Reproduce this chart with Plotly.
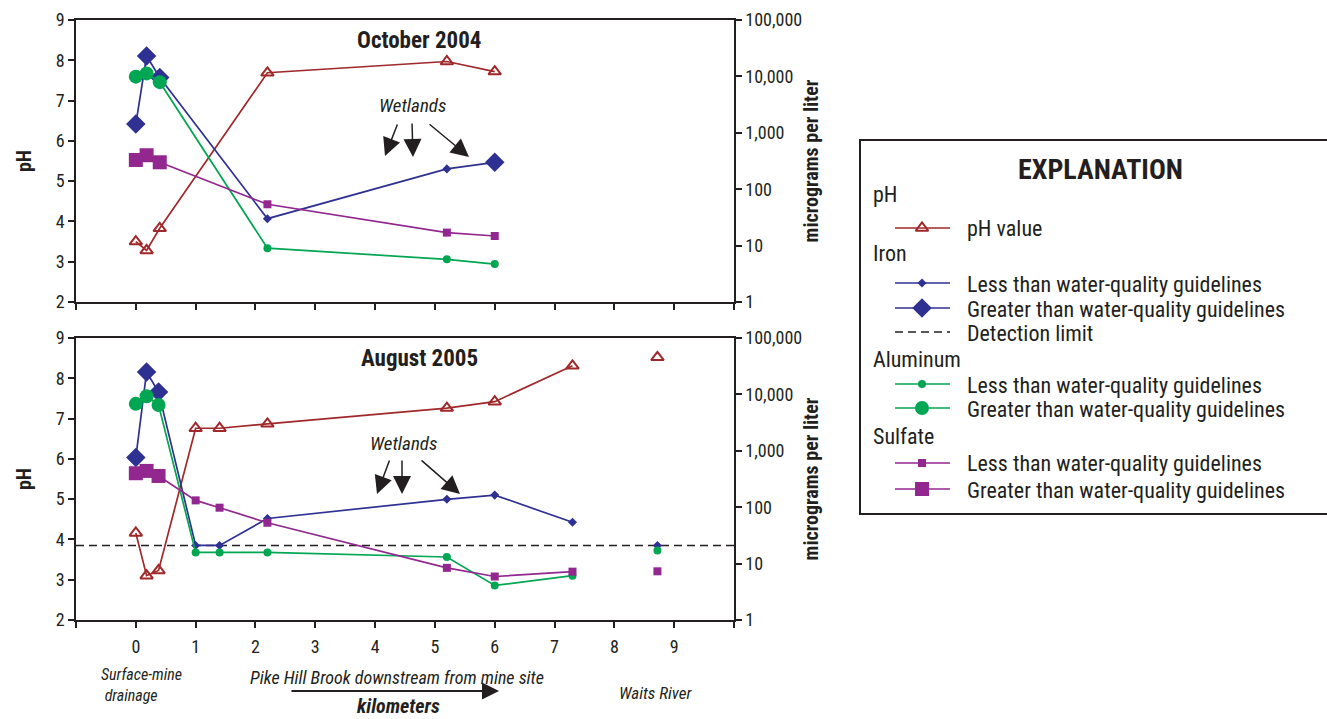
import plotly.graph_objects as go
from plotly.subplots import make_subplots

FONT = "Liberation Sans Narrow, Arial Narrow, Roboto Condensed, DejaVu Sans Condensed, Liberation Sans, sans-serif"
W, H = 1327, 719
INK = "#231F20"

# ---------------- data ----------------
# October 2004 (Pike Hill Brook, km downstream)
oct_km = [0, 0.18, 0.4, 2.2, 5.2, 6.0]
oct_ph = [3.5, 3.28, 3.83, 7.69, 7.97, 7.72]
oct_fe = [1430, 23000, 9600, 30, 229, 300]
oct_fe_exceed = [True, True, True, False, False, True]
oct_al = [9900, 11300, 7900, 9.0, 5.7, 4.7]
oct_al_exceed = [True, True, True, False, False, False]
oct_so4 = [330, 400, 300, 54, 17, 14.8]
oct_so4_exceed = [True, True, True, False, False, False]

# August 2005 (Pike Hill Brook)
aug_km = [0, 0.18, 0.38, 1.0, 1.4, 2.2, 5.2, 6.0, 7.3]
aug_ph = [4.16, 3.1, 3.23, 6.76, 6.76, 6.87, 7.26, 7.42, 8.31]
aug_fe = [760, 25000, 11000, 21, 21, 63, 138, 164, 54]
aug_fe_exceed = [True, True, True, False, False, False, False, False, False]
aug_al = [6800, 9300, 6500, 15.8, 15.8, 15.8, 13.1, 4.1, 6.1]
aug_al_exceed = [True, True, True, False, False, False, False, False, False]
aug_so4 = [400, 440, 358, 132, 98, 53, 8.4, 5.9, 7.2]
aug_so4_exceed = [True, True, True, False, False, False, False, False, False]

# August 2005 (Waits River, not connected)
waits_km = [8.72]
waits_ph = [8.52]
waits_fe = [21]
waits_al = [17]
waits_so4 = [7.3]

fe_detection_limit = 21
x_ticks = list(range(-1, 11))
x_ticklabels = [""] + [str(i) for i in range(0, 10)] + [""]
conc_ticks = [1, 10, 100, 1000, 10000, 100000]
conc_ticklabels = ["1", "10", "100", "1,000", "10,000", "100,000"]
ph_ticks = [2, 3, 4, 5, 6, 7, 8, 9]

legend_groups = ["pH", "Iron", "Aluminum", "Sulfate"]
legend_less = "Less than water-quality guidelines"
legend_greater = "Greater than water-quality guidelines"

# ---------------- styles ----------------
C_PH = "#A0282A"
C_FE = "#2E3192"
C_AL = "#00A651"
C_SO4 = "#92278F"
LW = 1.7

SYM = {"fe": ("diamond", 7, 15), "al": ("circle", 8, 14), "so4": ("square", 8, 14)}
COL = {"fe": C_FE, "al": C_AL, "so4": C_SO4}
PH_MARKER = dict(symbol="triangle-up-open", size=11, color=C_PH, line=dict(width=2, color=C_PH))


def px(x):
    return x / W


def py(y):
    return 1 - y / H


fig = make_subplots(rows=2, cols=1, specs=[[{"secondary_y": True}], [{"secondary_y": True}]])

# detection limit (bottom panel)
fig.add_trace(go.Scatter(x=[-1, 10], y=[fe_detection_limit, fe_detection_limit], mode="lines",
                         name="Detection limit", showlegend=False, hoverinfo="skip",
                         line=dict(color=INK, width=1.6, dash="8px,5px")),
              row=2, col=1, secondary_y=True)


def add_series(row, km, vals, exceed, key, connect=True):
    sym, small, big = SYM[key]
    sizes = [big if e else small for e in exceed]
    fig.add_trace(go.Scatter(x=km, y=vals, mode="lines+markers" if connect else "markers",
                             showlegend=False,
                             line=dict(color=COL[key], width=LW),
                             marker=dict(symbol=sym, size=sizes, color=COL[key], opacity=1,
                                         line=dict(width=0))),
                  row=row, col=1, secondary_y=True)


def add_ph(row, km, vals, connect=True):
    fig.add_trace(go.Scatter(x=km, y=vals, mode="lines+markers" if connect else "markers",
                             showlegend=False, line=dict(color=C_PH, width=LW), marker=PH_MARKER),
                  row=row, col=1, secondary_y=False)


# October 2004
add_ph(1, oct_km, oct_ph)
add_series(1, oct_km, oct_fe, oct_fe_exceed, "fe")
add_series(1, oct_km, oct_al, oct_al_exceed, "al")
add_series(1, oct_km, oct_so4, oct_so4_exceed, "so4")

# August 2005
add_ph(2, aug_km, aug_ph)
add_ph(2, waits_km, waits_ph, connect=False)
add_series(2, aug_km, aug_fe, aug_fe_exceed, "fe")
add_series(2, waits_km, waits_fe, [False], "fe", connect=False)
add_series(2, aug_km, aug_al, aug_al_exceed, "al")
add_series(2, waits_km, waits_al, [False], "al", connect=False)
add_series(2, aug_km, aug_so4, aug_so4_exceed, "so4")
add_series(2, waits_km, waits_so4, [False], "so4", connect=False)

# ---------------- axes ----------------
tickfont = dict(family=FONT, size=18, color=INK)
titlefont = dict(family=FONT, size=20, color=INK, weight="bold")
xdom = [px(76), px(734)]
common_x = dict(range=[-1, 10], tickvals=x_ticks, ticktext=x_ticklabels, ticks="outside", ticklen=6,
                tickwidth=1.5, tickcolor=INK, showline=True, linecolor=INK, linewidth=1.5,
                mirror=True, showgrid=False, zeroline=False, tickfont=tickfont, domain=xdom,
                automargin=False)
fig.update_layout(
    xaxis=dict(common_x, showticklabels=False),
    xaxis2=dict(common_x, showticklabels=True, ticklabelstandoff=4),
)
common_ph = dict(range=[2, 9], tickvals=ph_ticks, ticks="outside", ticklen=6, tickwidth=1.5,
                 tickcolor=INK, showline=True, linecolor=INK, linewidth=1.5,
                 showgrid=False, zeroline=False, tickfont=tickfont, automargin=False,
                 title=dict(text="pH", font=titlefont, standoff=19))
common_c = dict(type="log", range=[0, 5], tickvals=conc_ticks, ticktext=conc_ticklabels,
                ticks="outside", ticklen=6, tickwidth=1.5, tickcolor=INK, showline=True,
                linecolor=INK, linewidth=1.5, showgrid=False, zeroline=False, tickfont=tickfont,
                automargin=False,
                title=dict(text="micrograms per liter", font=titlefont, standoff=3))
fig.update_layout(
    yaxis=dict(common_ph, domain=[py(302), py(20)]),
    yaxis2=dict(common_c),
    yaxis3=dict(common_ph, domain=[py(620), py(338)]),
    yaxis4=dict(common_c),
)

# ---------------- manual legend (EXPLANATION) ----------------
# overlay axis in figure pixels for legend symbols
fig.update_layout(
    xaxis3=dict(domain=[0, 1], range=[0, W], visible=False, anchor="y5", fixedrange=True),
    yaxis5=dict(domain=[0, 1], range=[H, 0], visible=False, anchor="x3", fixedrange=True),
)
LX0, LX1, LXM = 895, 950, 922
legend_rows = [
    ("ph", None, 228, "pH value"),
    ("fe", "small", 283, legend_less),
    ("fe", "big", 308, legend_greater),
    ("dl", None, 332, "Detection limit"),
    ("al", "small", 384, legend_less),
    ("al", "big", 408, legend_greater),
    ("so4", "small", 463, legend_less),
    ("so4", "big", 489, legend_greater),
]
group_rows = [(legend_groups[0], 194), (legend_groups[1], 254), (legend_groups[2], 359), (legend_groups[3], 436)]

ann = []
for key, size, ry, label in legend_rows:
    if key == "dl":
        fig.add_trace(go.Scatter(x=[LX0, LX1], y=[ry, ry], mode="lines", showlegend=False, hoverinfo="skip",
                                 line=dict(color=INK, width=1.6, dash="8px,5px"), xaxis="x3", yaxis="y5"))
    else:
        if key == "ph":
            col, mk = C_PH, PH_MARKER
        else:
            sym, small, big = SYM[key]
            col = COL[key]
            mk = dict(symbol=sym, size=small if size == "small" else big, color=col, line=dict(width=0))
        fig.add_trace(go.Scatter(x=[LX0, LX1], y=[ry, ry], mode="lines", showlegend=False, hoverinfo="skip",
                                 line=dict(color=col, width=LW), xaxis="x3", yaxis="y5"))
        fig.add_trace(go.Scatter(x=[LXM], y=[ry], mode="markers", showlegend=False, hoverinfo="skip",
                                 marker=mk, xaxis="x3", yaxis="y5"))
    ann.append(dict(x=px(965), y=py(ry + 1), xanchor="left", yanchor="middle", text=label,
                    font=dict(family=FONT, size=22, color=INK)))
for g, gy in group_rows:
    ann.append(dict(x=px(871), y=py(gy), xanchor="left", yanchor="middle", text=g,
                    font=dict(family=FONT, size=22, color=INK)))
ann.append(dict(x=px(1100), y=py(169), xanchor="center", yanchor="middle", text="<b>EXPLANATION</b>",
                font=dict(family=FONT, size=28, color=INK)))

shapes = [dict(type="rect", xref="paper", yref="paper", x0=px(860), x1=px(1345), y0=py(514), y1=py(140),
               line=dict(color=INK, width=2), fillcolor="rgba(0,0,0,0)", layer="below")]

# ---------------- annotations ----------------
ann.append(dict(x=px(419), y=py(41), text="<b>October 2004</b>", font=dict(family=FONT, size=23, color=INK)))
ann.append(dict(x=px(419), y=py(358), text="<b>August 2005</b>", font=dict(family=FONT, size=23, color=INK)))
# wetlands
for (tx, ty, heads, tails) in [
    (412, 106, [(385, 156), (413, 157), (469, 157)], [(398, 123), (412, 122), (428, 123)]),
    (403, 443, [(377, 494), (402, 494), (460, 494)], [(390, 459), (402, 459), (420, 459)]),
]:
    ann.append(dict(x=px(tx), y=py(ty), text="<i>Wetlands</i>", font=dict(family=FONT, size=19, color=INK)))
    for (hx, hy), (tx2, ty2) in zip(heads, tails):
        ann.append(dict(x=px(hx), y=py(hy), text="", showarrow=True, arrowhead=2, arrowsize=2.4,
                        arrowwidth=1.5, arrowcolor=INK, ax=tx2 - hx, ay=ty2 - hy))
# x-axis descriptions
ann.append(dict(x=px(99), y=py(685), xanchor="left", align="left",
                text="<i>Surface-mine<br> drainage</i>", font=dict(family=FONT, size=16, color=INK)))
ann.append(dict(x=px(397), y=py(677), text="<i>Pike Hill Brook downstream from mine site</i>",
                font=dict(family=FONT, size=18, color=INK)))
ann.append(dict(x=px(655), y=py(693), text="<i>Waits River</i>", font=dict(family=FONT, size=17, color=INK)))
ann.append(dict(x=px(398), y=py(706), text="<b><i>kilometers</i></b>", font=dict(family=FONT, size=20, color=INK)))
ann.append(dict(x=px(499), y=py(691), text="", showarrow=True, arrowhead=2, arrowsize=1.7, arrowwidth=2,
                arrowcolor=INK, ax=-209, ay=0))
for a in ann:
    a.setdefault("xref", "paper")
    a.setdefault("yref", "paper")
    a.setdefault("showarrow", False)
    a.setdefault("xanchor", "center")
    a.setdefault("yanchor", "middle")

fig.update_layout(
    annotations=ann, shapes=shapes,
    width=W, height=H, margin=dict(l=0, r=0, t=0, b=0, autoexpand=False),
    paper_bgcolor="white", plot_bgcolor="rgba(0,0,0,0)",
    font=dict(family=FONT, color=INK),
    showlegend=False,
)

fig.write_html("out.html")
